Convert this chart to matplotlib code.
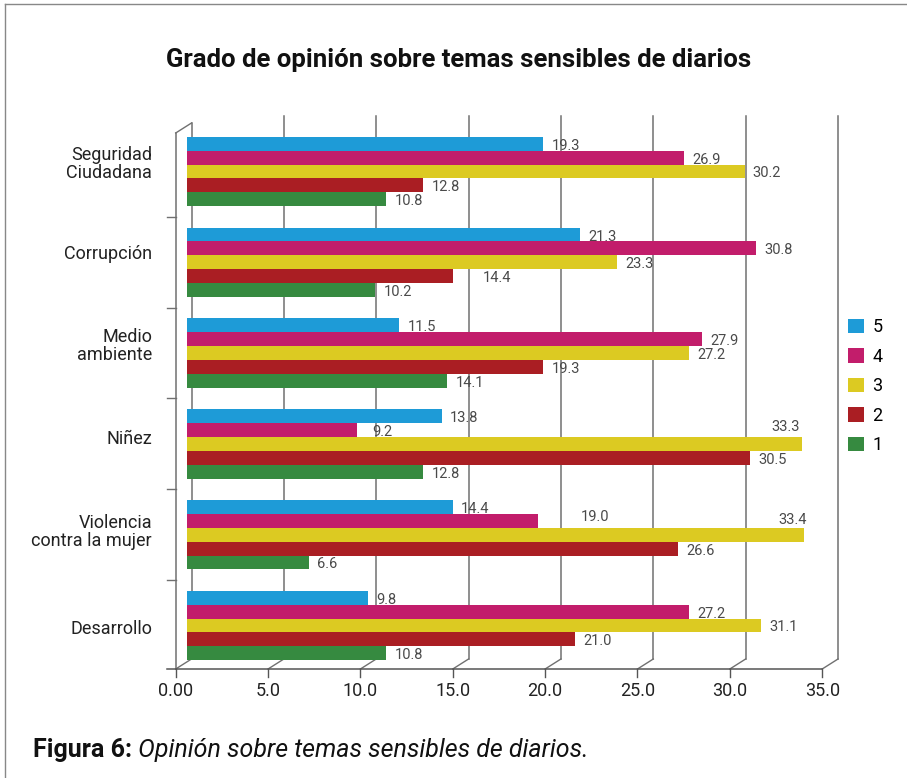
import matplotlib
matplotlib.use('Agg')
import matplotlib.pyplot as plt
from matplotlib.lines import Line2D
from matplotlib.transforms import ScaledTranslation
import numpy as np

plt.rcParams['font.family'] = ['Roboto', 'DejaVu Sans']

# Datos del gráfico
categorias = ['Seguridad\nCiudadana', 'Corrupción', 'Medio\nambiente', 'Niñez',
              'Violencia\ncontra la mujer', 'Desarrollo']
serie_5 = [19.3, 21.3, 11.5, 13.8, 14.4, 9.8]
serie_4 = [26.9, 30.8, 27.9, 9.2, 19.0, 27.2]
serie_3 = [30.2, 23.3, 27.2, 33.3, 33.4, 31.1]
serie_2 = [12.8, 14.4, 19.3, 30.5, 26.6, 21.0]
serie_1 = [10.8, 10.2, 14.1, 12.8, 6.6, 10.8]
nombres = ['5', '4', '3', '2', '1']
colores = ['#1e9bd7', '#c21d6b', '#dcca22', '#aa1e23', '#368a40']
marcas = [0, 5, 10, 15, 20, 25, 30, 35]
marcas_txt = ['0.00', '5.0', '10.0', '15.0', '20.0', '25.0', '30.0', '35.0']

series = [serie_5, serie_4, serie_3, serie_2, serie_1]

fig = plt.figure(figsize=(9.07, 7.78), dpi=100)
W, H = 646.5, 543.0
ax = fig.add_axes([187 / 907, 1 - 664 / 778, W / 907, H / 778])
ax.set_xlim(0, 35)
ax.set_ylim(5.424, -0.556)
ax.axis('off')
ppu = W / 35


def mover(tr, dx, dy):
    # dx, dy en pixeles (dy positivo hacia arriba)
    return tr + ScaledTranslation(dx / 100, dy / 100, fig.dpi_scale_trans)


xt = ax.get_xaxis_transform()
frente = mover(xt, -11.3, -5)
fondo = mover(xt, 4.5, 5)
prof = (15.8 / ppu, 10 / H)
gris = '#707070'
f_top = (664 - 128) / H

# Pared del fondo (líneas de la grilla)
for v, txt in zip(marcas, marcas_txt):
    top = f_top if v == 0 else 1
    ax.plot([v, v], [0, top], color=gris, lw=1.1, transform=fondo, clip_on=False, zorder=1)
    # conexión frente-fondo en el piso
    ax.plot([v, v + prof[0]], [0, prof[1]], color=gris, lw=1, transform=frente,
            clip_on=False, zorder=1)
    # marca hacia abajo
    ax.plot([v, v], [0, -8 / H], color='#555555', lw=1, transform=frente, clip_on=False)
    ax.text(v, -22 / H, txt, transform=frente, ha='center',
            va='center', fontsize=13, color='#222222')

# Pared izquierda y piso
ax.plot([0, 0], [0, f_top], color=gris, lw=1.1, transform=frente, clip_on=False, zorder=1)
ax.plot([0, prof[0]], [f_top, f_top + prof[1]], color=gris, lw=1, transform=frente,
        clip_on=False, zorder=1)
ax.plot([-9 / ppu, 35], [0, 0], color='#555555', lw=1.1, transform=frente, clip_on=False)
td = mover(ax.transData, -11.3, 0)
for i in range(len(categorias) - 1):
    ax.plot([-9 / ppu, 0], [i + 0.5, i + 0.5], color=gris, lw=1, transform=td, clip_on=False)

# Barras
h = 0.153
y = np.arange(len(categorias))
# ajustes de posición de algunas etiquetas (px)
ajustes = {(1, 3): (30, 2), (3, 1): (15, 2), (3, 2): (-31, -17),
           (4, 1): (43, -4), (4, 2): (-26, -15)}
for k, (vals, col, nom) in enumerate(zip(series, colores, nombres)):
    pos = y + (k - 2) * h
    ax.barh(pos, vals, height=h, color=col, label=nom, zorder=3)
    for i, v in enumerate(vals):
        dx, dy = ajustes.get((i, k), (8, 2))
        ax.annotate(f'{v:.1f}', xy=(v, pos[i]), xytext=(dx * 0.72, -dy * 0.72),
                    textcoords='offset points', ha='left', va='center',
                    fontsize=10.5, color='#4a4a4a', zorder=4, annotation_clip=False)

# Etiquetas de categorías (desplazamiento vertical en px)
subir = [7, 8, 7, 5, 3, -4]
for i, c in enumerate(categorias):
    ax.text(-35 / ppu, i, c, transform=mover(ax.transData, 0, subir[i]), ha='right',
            va='center', multialignment='right', linespacing=1.0, fontsize=13,
            color='#222222')

# Leyenda
ax.legend(loc='upper left', bbox_to_anchor=(848 / 907, 1 - 318 / 778),
          bbox_transform=fig.transFigure, frameon=False, fontsize=13,
          handlelength=0.9, handleheight=0.85, handletextpad=0.45,
          labelspacing=0.64, borderaxespad=0, borderpad=0)

# Título y pie
fig.text(459 / 907, 1 - 60 / 778, 'Grado de opinión sobre temas sensibles de diarios',
         ha='center', va='center', fontsize=18.5, fontweight='bold', color='#111111')
t1 = fig.text(33 / 907, 1 - 757 / 778, 'Figura 6:', fontsize=18, fontweight='bold',
              color='#111111', va='baseline')
ax.annotate(' Opinión sobre temas sensibles de diarios.', xy=(1, 0), xycoords=t1,
            va='bottom', ha='left', fontsize=18, style='italic', color='#111111',
            annotation_clip=False)

# Marco
fig.add_artist(Line2D([5 / 907, 5 / 907], [0, 1 - 4 / 778], color='#888888', lw=1))
fig.add_artist(Line2D([5 / 907, 1], [1 - 4 / 778, 1 - 4 / 778], color='#888888', lw=1))

fig.savefig('out.png', dpi=100)
